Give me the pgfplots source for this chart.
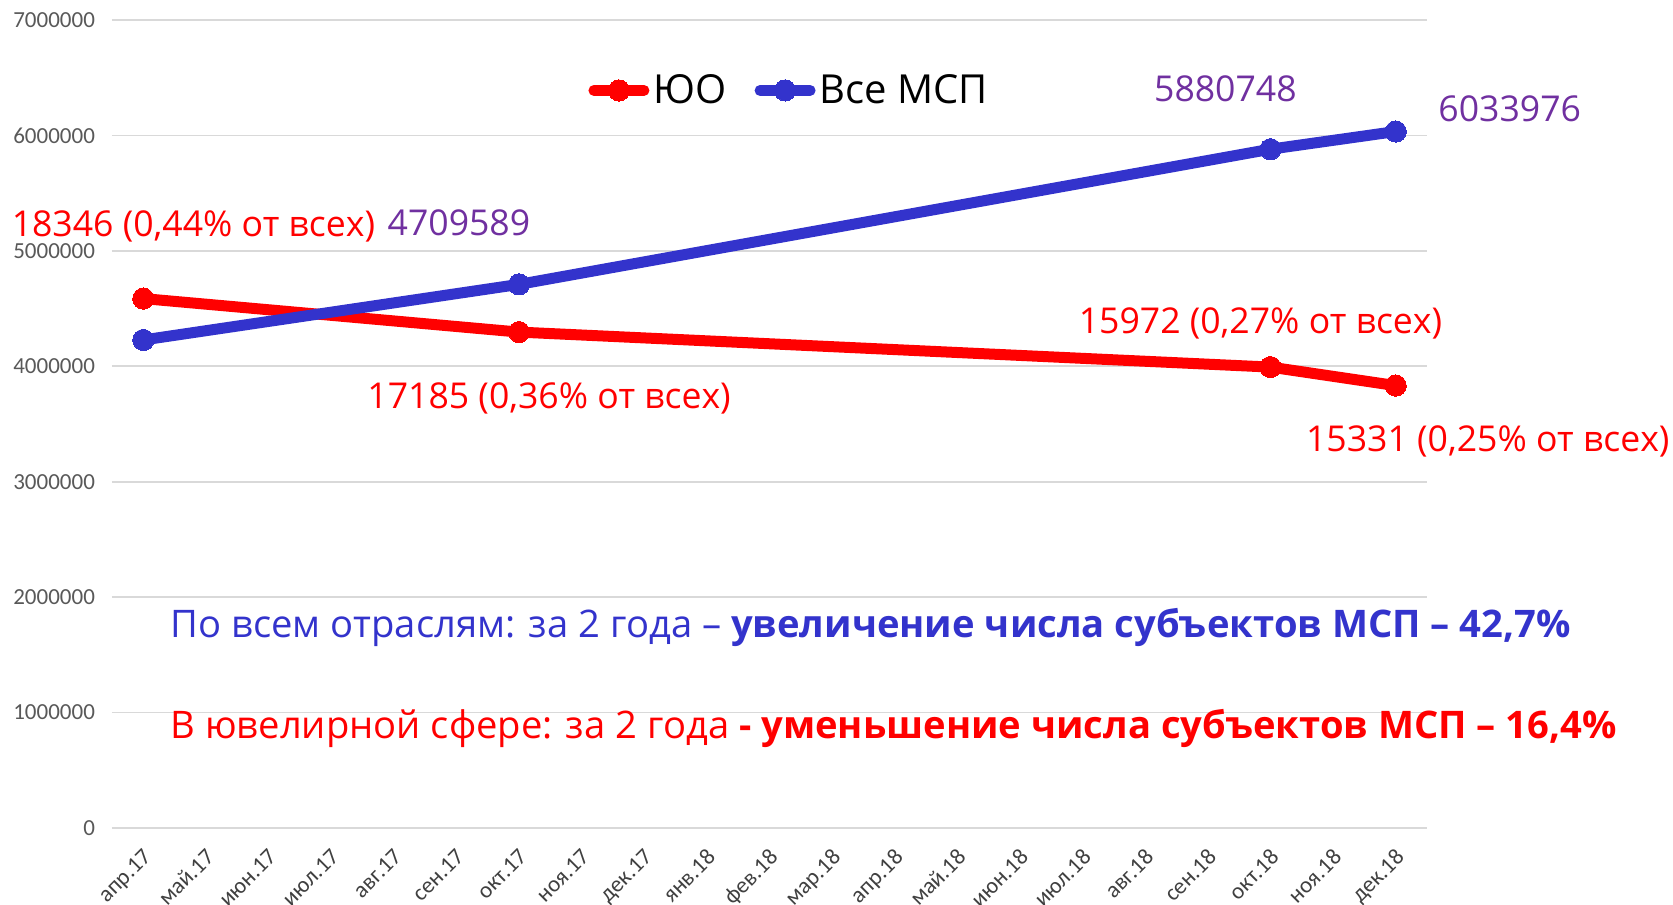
\documentclass[border=0pt]{standalone}
\usepackage{pgfplots}
\pgfplotsset{compat=1.18}
\usepackage{graphicx}
\usepackage{fontspec}
\setmainfont{Open Sans}
\newfontfamily\carlito{Carlito}
\definecolor{msred}{RGB}{255,0,0}
\definecolor{msblue}{RGB}{51,51,204}
\definecolor{mspurple}{RGB}{112,48,160}
\definecolor{gridgray}{RGB}{217,217,217}
\definecolor{ticktext}{RGB}{89,89,89}
\definecolor{xtext}{RGB}{64,64,64}
\begin{document}
\begin{tikzpicture}
\begin{axis}[
  at={(0,0)}, anchor=south west,
  scale only axis, width=657.5pt, height=404pt,
  xmin=-0.5, xmax=20.5, ymin=0, ymax=7000000,
  clip=false,
  axis line style={draw=none},
  major tick length=0pt,
  ymajorgrids, grid style={gridgray, line width=0.8pt},
  xtick={0,...,20},
  xticklabels={апр.17,май.17,июн.17,июл.17,авг.17,сен.17,окт.17,ноя.17,дек.17,янв.18,фев.18,мар.18,апр.18,май.18,июн.18,июл.18,авг.18,сен.18,окт.18,ноя.18,дек.18},
  xticklabel style={xshift=-0.7pt, yshift=-4.8pt, rotate=45, anchor=north east, font=\carlito\fontsize{11.5}{13}\selectfont, text=xtext},
  ytick={0,1000000,2000000,3000000,4000000,5000000,6000000,7000000},
  scaled y ticks=false,
  yticklabel style={font=\carlito\fontsize{11.5}{13}\selectfont, text=ticktext, xshift=-5pt},
  /pgf/number format/.cd, fixed, 1000 sep={}, assume math mode=true,
  /pgfplots/.cd,
  legend style={at={(axis cs:10.33,6390000)}, anchor=center, draw=none, fill=none,
    font=\fontsize{20}{24}\selectfont, legend columns=2,
    /tikz/every even column/.append style={column sep=12pt}},
  legend image code/.code={\draw[mark repeat=2,mark phase=2,#1] plot coordinates {(0pt,0pt) (12.5pt,0pt) (25pt,0pt)};},
]
\addplot[msred, line width=5.5pt, line cap=round, line join=round, mark=*, mark size=5.3pt, mark options={line width=0pt}]
  coordinates {(0,4586500) (6,4296250) (18,3993000) (20,3832750)};
\addlegendentry{ЮО}
\addplot[msblue, line width=5.5pt, line cap=round, line join=round, mark=*, mark size=5.3pt, mark options={line width=0pt}]
  coordinates {(0,4228000) (6,4709589) (18,5880748) (20,6033976)};
\addlegendentry{Все МСП}

\begin{scope}[every node/.style={font=\fontsize{17.8}{22}\selectfont, inner sep=0pt}]
\node[text=msred] at (axis cs:0.80,5210000) {18346 (0,44\% от всех)};
\node[text=mspurple] at (axis cs:5.04,5240000) {4709589};
\node[text=msred] at (axis cs:6.48,3720000) {17185 (0,36\% от всех)};
\node[text=mspurple] at (axis cs:17.28,6400000) {5880748};
\node[text=mspurple] at (axis cs:21.82,6230000) {6033976};
\node[text=msred] at (axis cs:17.84,4370000) {15972 (0,27\% от всех)};
\node[text=msred] at (axis cs:21.47,3350000) {15331 (0,25\% от всех)};
\end{scope}
\node[anchor=west, inner sep=0pt, text=msblue, font=\fontsize{19}{23}\selectfont] at (axis cs:0.43,1740000)
  {\resizebox{700pt}{\height}{По всем отраслям: за 2 года – \textbf{увеличение числа субъектов МСП – 42,7\%}}};
\node[anchor=west, inner sep=0pt, text=msred, font=\fontsize{19}{23}\selectfont] at (axis cs:0.43,860000)
  {\resizebox{723pt}{\height}{В ювелирной сфере: за 2 года \textbf{- уменьшение числа субъектов МСП – 16,4\%}}};
\end{axis}
\pgfresetboundingbox
\path[use as bounding box] (-56pt,-38pt) rectangle (780.5pt,414pt);
\end{tikzpicture}
\end{document}
